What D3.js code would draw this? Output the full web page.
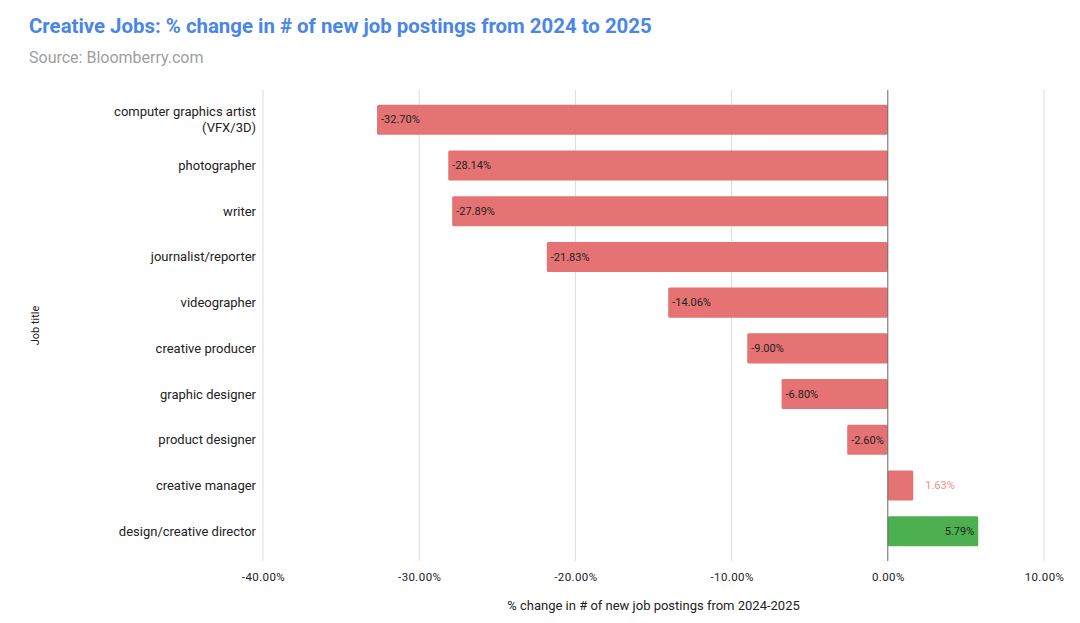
<!DOCTYPE html>
<html>
<head>
<meta charset="utf-8">
<script src="https://cdn.jsdelivr.net/npm/d3@7"></script>
<style>
  body { margin: 0; background: #fff; }
  text { font-family: Roboto, "Noto Sans", sans-serif; }
</style>
</head>
<body>
<figure id="chart" style="margin:0"></figure>
<script>
// data
const jobs = [
    "computer graphics artist\n(VFX/3D)",
    "photographer",
    "writer",
    "journalist/reporter",
    "videographer",
    "creative producer",
    "graphic designer",
    "product designer",
    "creative manager",
    "design/creative director"
];
const changes = [-32.70, -28.14, -27.89, -21.83, -14.06, -9.00, -6.80, -2.60, 1.63, 5.79];
const xTicks = [-40, -30, -20, -10, 0, 10];

let dimensions = {
    width: 1080,
    height: 623,
    margin: { top: 90, right: 36, bottom: 62, left: 263 }
};
dimensions.boundedWidth = dimensions.width - dimensions.margin.left - dimensions.margin.right
dimensions.boundedHeight = dimensions.height - dimensions.margin.top - dimensions.margin.bottom

const data = jobs.map((j, i) => ({ job: j, value: changes[i] }));

const root = d3.select("figure#chart")
    .append("svg")
    .attr("width", dimensions.width)
    .attr("height", dimensions.height);

// title + subtitle
root.append("text")
    .attr("x", 29).attr("y", 33)
    .attr("font-size", 20.4).attr("font-weight", "bold")
    .attr("fill", "#4a86e8")
    .text("Creative Jobs: % change in # of new job postings from 2024 to 2025");
root.append("text")
    .attr("x", 29).attr("y", 63)
    .attr("font-size", 16)
    .attr("fill", "#9e9e9e")
    .text("Source: Bloomberry.com");

const svg = root.append("g")
    .attr("transform", `translate(${dimensions.margin.left},${dimensions.margin.top})`);

const xScale = d3.scaleLinear()
    .domain([-40, 10])
    .range([0, dimensions.boundedWidth]);

const yScale = d3.scaleBand()
    .domain(data.map(d => d.job))
    .range([0, dimensions.boundedHeight])
    .paddingInner(0.344)
    .paddingOuter(0.32);

// gridlines
svg.append("g")
    .selectAll("line")
    .data(xTicks.filter(t => t !== 0))
    .join("line")
    .attr("x1", d => xScale(d)).attr("x2", d => xScale(d))
    .attr("y1", 0).attr("y2", dimensions.boundedHeight)
    .attr("stroke", "#dcdcdc");

// bars
svg.append("g")
    .selectAll("rect")
    .data(data)
    .join("rect")
    .attr("x", d => xScale(Math.min(0, d.value)))
    .attr("y", d => yScale(d.job))
    .attr("width", d => Math.abs(xScale(d.value) - xScale(0)))
    .attr("height", yScale.bandwidth())
    .attr("rx", 1.5)
    .attr("fill", (d, i) => i === data.length - 1 ? "#4caf50" : "#e57373");

// zero line
svg.append("line")
    .attr("x1", xScale(0)).attr("x2", xScale(0))
    .attr("y1", 0).attr("y2", dimensions.boundedHeight)
    .attr("stroke", "#666");

// bar labels
svg.append("g")
    .selectAll("text")
    .data(data)
    .join("text")
    .attr("font-size", 11)
    .attr("dy", "0.35em")
    .attr("y", d => yScale(d.job) + yScale.bandwidth() / 2)
    .attr("x", (d, i) => {
        if (d.value < 0) return xScale(d.value) + 4;
        if (i === data.length - 1) return xScale(d.value) - 4;
        return xScale(d.value) + 12;
    })
    .attr("text-anchor", (d, i) => (d.value > 0 && i === data.length - 1) ? "end" : "start")
    .attr("fill", (d, i) => (d.value > 0 && i !== data.length - 1) ? "#f08c8c" : "#222")
    .text(d => d.value.toFixed(2) + "%");

// y axis labels
const yLabels = svg.append("g")
    .selectAll("text")
    .data(data)
    .join("text")
    .attr("text-anchor", "end")
    .attr("font-size", 13)
    .attr("fill", "#222")
    .attr("x", -7)
    .attr("y", d => yScale(d.job) + yScale.bandwidth() / 2);
yLabels.each(function(d) {
    const lines = d.job.split("\n");
    const t = d3.select(this);
    lines.forEach((l, k) => {
        t.append("tspan")
            .attr("x", -7)
            .attr("dy", k === 0 ? (0.35 - (lines.length - 1) * 0.6) + "em" : "1.2em")
            .text(l);
    });
});

// x axis
const xAxis = svg.append("g")
    .attr("transform", `translate(0, ${dimensions.boundedHeight})`)
    .call(d3.axisBottom(xScale).tickValues(xTicks).tickSize(0).tickPadding(12)
        .tickFormat(d => d.toFixed(2) + "%"));
xAxis.select(".domain").remove();
xAxis.selectAll("text")
    .attr("font-size", 11.5)
    .attr("letter-spacing", 0.4)
    .attr("font-family", "Roboto, sans-serif")
    .attr("fill", "#222");

// axis titles
svg.append("text")
    .attr("x", dimensions.boundedWidth / 2)
    .attr("y", dimensions.boundedHeight + 49)
    .attr("text-anchor", "middle")
    .attr("font-size", 13)
    .attr("fill", "#222")
    .text("% change in # of new job postings from 2024-2025");

svg.append("text")
    .attr("transform", `translate(${39 - dimensions.margin.left}, ${dimensions.boundedHeight / 2}) rotate(-90)`)
    .attr("text-anchor", "middle")
    .attr("font-size", 11)
    .attr("fill", "#222")
    .text("Job title");
</script>
</body>
</html>
